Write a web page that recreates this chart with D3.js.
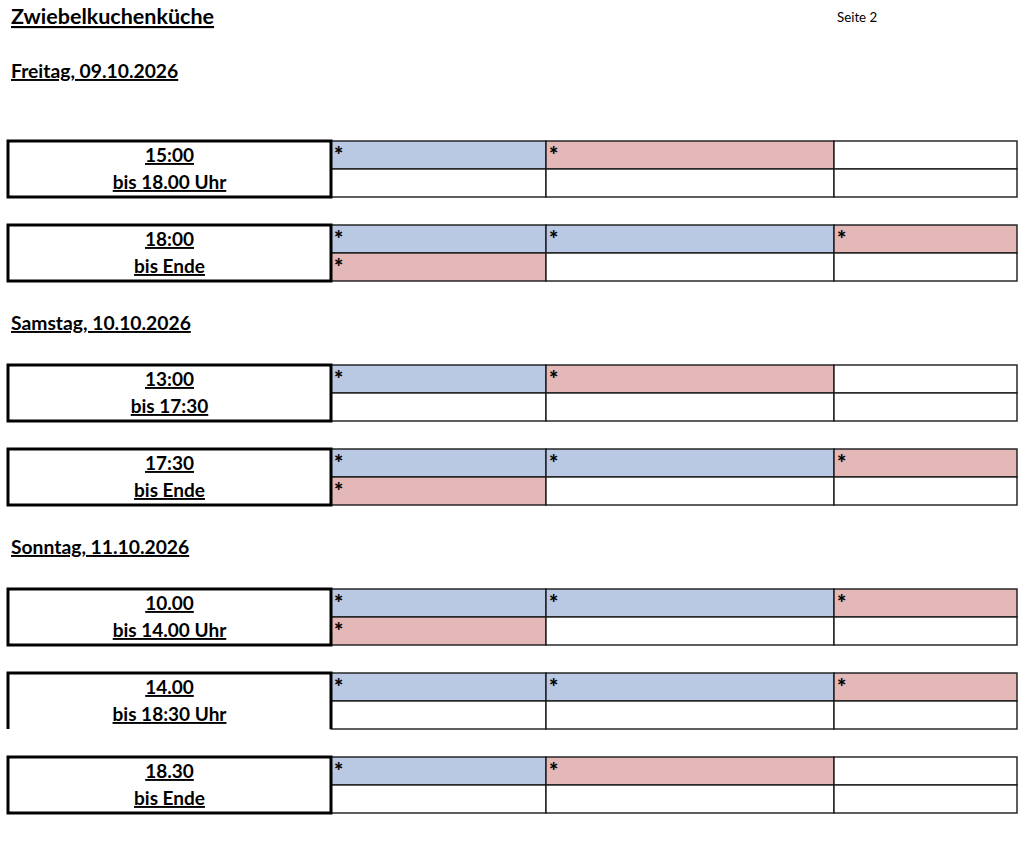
<!DOCTYPE html>
<html>
<head>
<meta charset="utf-8">
<script src="https://cdn.jsdelivr.net/npm/d3@7"></script>
<style>
  body { margin: 0; background: #fff; }
  svg text { font-family: Lato, "Open Sans", sans-serif; fill: #000; }
</style>
</head>
<body>
<svg id="chart"></svg>
<script>
// --- data ---
const title = "Zwiebelkuchenküche";
const pageLabel = "Seite 2";
const days = ["Freitag, 09.10.2026", "Samstag, 10.10.2026", "Sonntag, 11.10.2026"];
const slotDay = [0, 0, 1, 1, 2, 2, 2];
const slotStart = ["15:00", "18:00", "13:00", "17:30", "10.00", "14.00", "18.30"];
const slotEnd = ["bis 18.00 Uhr", "bis Ende", "bis 17:30", "bis Ende", "bis 14.00 Uhr", "bis 18:30 Uhr", "bis Ende"];
// b = blue, r = red, "" = empty; first three = top row, last three = bottom row
const slotCells = [
  ["b", "r", "", "", "", ""],
  ["b", "b", "r", "r", "", ""],
  ["b", "r", "", "", "", ""],
  ["b", "b", "r", "r", "", ""],
  ["b", "b", "r", "r", "", ""],
  ["b", "b", "r", "", "", ""],
  ["b", "r", "", "", "", ""]
];
const openBottom = ["14.00"];

// --- layout ---
const width = 1024;
const height = 844;
const fills = { b: "#b9c9e3", r: "#e3b8b7", "": "#ffffff" };
const blankRowsAfterHeader = [2, 1, 1];

const svg = d3.select("#chart")
  .attr("width", width)
  .attr("height", height)
  .attr("viewBox", [0, 0, width, height]);

// spreadsheet grid: column edges and 28px rows
const x = d3.scaleLinear()
  .domain([0, 1, 2, 3, 4])
  .range([8, 331, 546, 834, 1017]);

const y = d3.scaleLinear()
  .domain([0, 1])
  .range([1, 29]);

// walk down the sheet, row by row
let row = 0;
const titleRow = row;
row += 2;
const headerRows = [];
const slotRows = [];
days.forEach((day, i) => {
  headerRows.push(row);
  row += 1 + blankRowsAfterHeader[i];
  slotDay.forEach((d, j) => {
    if (d !== i) return;
    slotRows[j] = row;
    row += 3;
  });
});

svg.append("text")
  .attr("x", 11)
  .attr("y", y(titleRow + 1) - 5)
  .attr("font-size", 21.5)
  .attr("font-weight", "bold")
  .attr("text-decoration", "underline")
  .text(title);

svg.append("text")
  .attr("x", 837)
  .attr("y", y(titleRow + 1) - 7)
  .attr("font-size", 13.3)
  .text(pageLabel);

svg.selectAll("text.day")
  .data(days)
  .join("text")
  .attr("class", "day")
  .attr("x", 11)
  .attr("y", (d, i) => y(headerRows[i] + 1) - 7)
  .attr("font-size", 19.3)
  .attr("font-weight", "bold")
  .attr("text-decoration", "underline")
  .text(d => d);

const slots = slotStart.map((s, i) => ({
  start: s,
  end: slotEnd[i],
  row: slotRows[i],
  cells: slotCells[i]
}));

const g = svg.selectAll("g.slot")
  .data(slots)
  .join("g")
  .attr("class", "slot");

// cells
g.each(function (slot) {
  const cells = slot.cells.map((c, k) => ({
    fill: c,
    col: 1 + (k % 3),
    r: slot.row + Math.floor(k / 3)
  }));

  const cell = d3.select(this).selectAll("g.cell")
    .data(cells)
    .join("g")
    .attr("class", "cell");

  cell.append("rect")
    .attr("x", d => x(d.col))
    .attr("y", d => y(d.r))
    .attr("width", d => x(d.col + 1) - x(d.col))
    .attr("height", d => y(d.r + 1) - y(d.r))
    .attr("fill", d => fills[d.fill])
    .attr("stroke", "#1a1a1a")
    .attr("stroke-width", 1.4);

  cell.filter(d => d.fill !== "")
    .append("text")
    .attr("x", d => x(d.col) + 3)
    .attr("y", d => y(d.r) + 22)
    .attr("font-size", 22)
    .attr("font-weight", "900")
    .text("*");
});

// thick time box
g.append("path")
  .attr("fill", "none")
  .attr("stroke", "#000")
  .attr("stroke-width", 3)
  .attr("d", d => {
    const x0 = x(0), x1 = x(1), y0 = y(d.row), y1 = y(d.row + 2);
    return openBottom.includes(d.start)
      ? `M${x0},${y1}V${y0}H${x1}V${y1}`
      : `M${x0},${y0}H${x1}V${y1}H${x0}Z`;
  });

g.append("text")
  .attr("x", (x(0) + x(1)) / 2)
  .attr("y", d => y(d.row) + 21)
  .attr("text-anchor", "middle")
  .attr("font-size", 19)
  .attr("font-weight", "bold")
  .attr("text-decoration", "underline")
  .text(d => d.start);

g.append("text")
  .attr("x", (x(0) + x(1)) / 2)
  .attr("y", d => y(d.row) + 48)
  .attr("text-anchor", "middle")
  .attr("font-size", 19)
  .attr("font-weight", "bold")
  .attr("text-decoration", "underline")
  .text(d => d.end);
</script>
</body>
</html>
